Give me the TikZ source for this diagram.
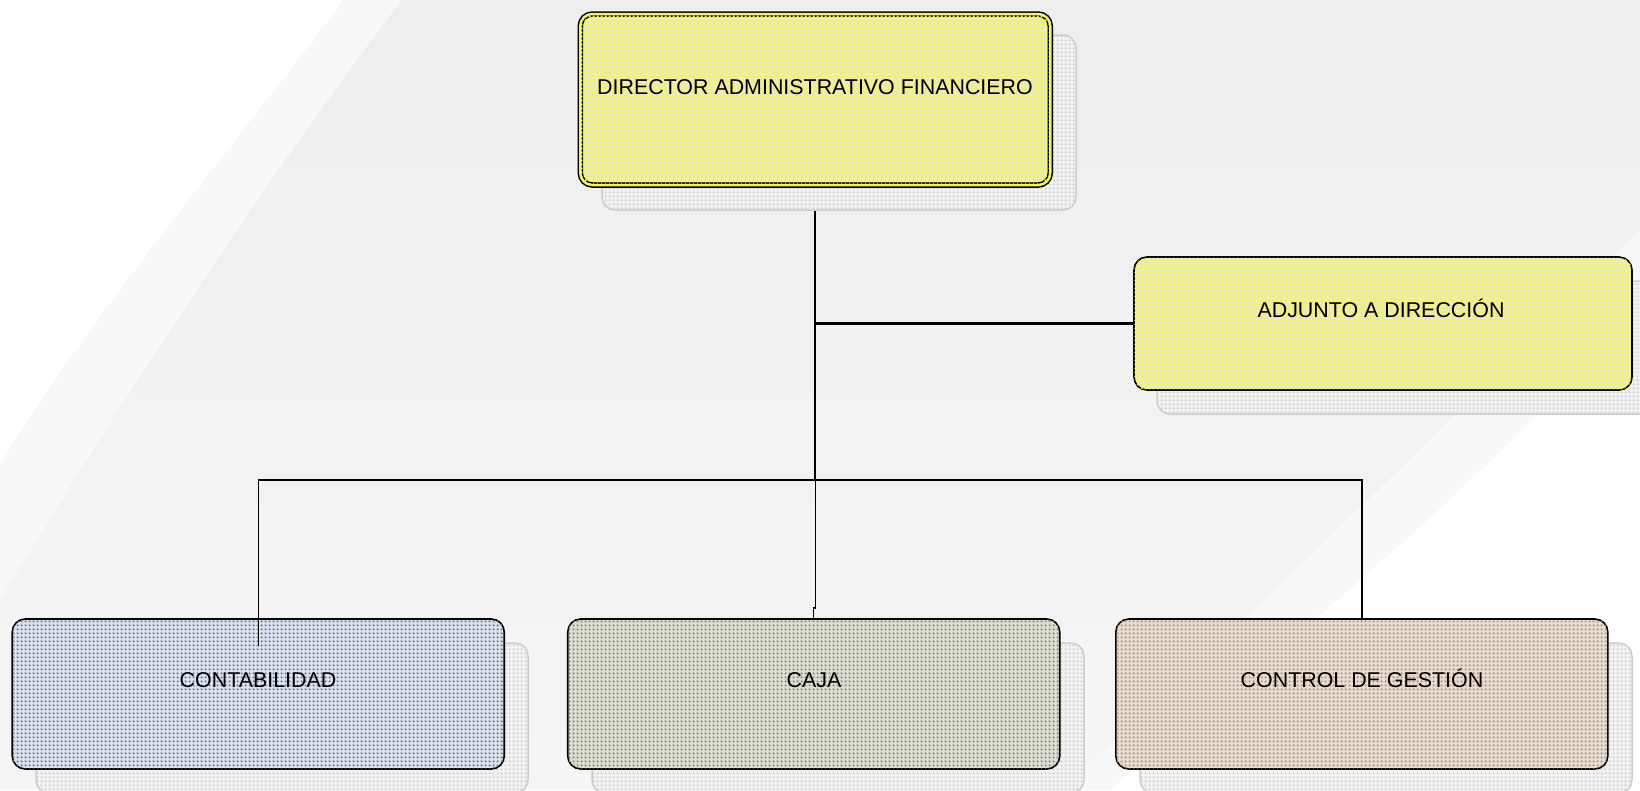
\documentclass[tikz,border=0pt]{standalone}
\usepackage{fontspec}
\setmainfont{Liberation Sans}
\usetikzlibrary{patterns.meta}
\definecolor{yellowbase}{HTML}{E8E8CC}
\definecolor{yellowdot}{HTML}{FFFF00}
\definecolor{bluebase}{HTML}{DCE2EC}
\definecolor{bluedot}{HTML}{4A80DA}
\definecolor{cajabase}{HTML}{DCDDD2}
\definecolor{cajadot}{HTML}{879656}
\definecolor{ctrlbase}{HTML}{E6DCD2}
\definecolor{ctrldot}{HTML}{F57F30}
\definecolor{shadowbase}{HTML}{F2F2F2}
\definecolor{shadowdot}{HTML}{D0D0D0}
\definecolor{shadowline}{HTML}{CDCDCD}
\definecolor{bandcol}{HTML}{F8F8F8}
\definecolor{greytop}{HTML}{EEEEEE}
\definecolor{greybot}{HTML}{F5F5F5}
\tikzdeclarepattern{name=boxdots, type=uncolored,
  bounding box={(0pt,0pt) and (4pt,4pt)}, tile size={(4pt,4pt)},
  code={\fill (2pt,2pt) circle (1.45pt);}}
\pgfdeclarelayer{back}
\pgfdeclarelayer{lines}
\pgfsetlayers{back,lines,main}
\begin{document}
\begin{tikzpicture}[x=1pt,y=-1pt,
  shadowbox/.style={draw=shadowline, fill=shadowbase, postaction={pattern=boxdots, pattern color=shadowdot}, line width=1.5pt, rounded corners=13pt, inner sep=0pt, outer sep=0pt},
  orgbox/.style={draw=black, line width=1.6pt, rounded corners=13pt, inner sep=0pt, outer sep=0pt},
  dotfill/.style 2 args={fill=#1, postaction={pattern=boxdots, pattern color=#2}},
  topbox/.style={draw=black, line width=1.5pt, double=yellowbase!60!yellowdot, double distance=2.5pt, rounded corners=12pt, inner sep=0pt, outer sep=0pt},
  lbl/.style={font=\fontsize{21.4}{25}\selectfont, anchor=base, inner sep=0pt, text=black},
  conn/.style={draw=black, line width=1.4pt},
  mainline/.style={draw=black, line width=2.1pt}]
\useasboundingbox (0,0) rectangle (1640,790);
\clip (0,0) rectangle (1640,790);

% background
\begin{pgfonlayer}{back}
  \fill[white] (0,0) rectangle (1640,790);
  \fill[bandcol] (344,0) -- (1640,0) -- (1640,300)
     .. controls (1530,440) and (1330,610) .. (1110,790)
     -- (0,790) -- (0,465)
     .. controls (80,330) and (230,150) .. (344,0) -- cycle;
  \shade[top color=greytop, bottom color=greybot] (402,0) -- (1640,0) -- (1640,230)
     .. controls (1480,390) and (1270,600) .. (1060,790)
     -- (0,790) -- (0,600)
     .. controls (110,420) and (250,200) .. (402,0) -- cycle;
\end{pgfonlayer}

% shadows
\node[shadowbox, minimum width=474pt, minimum height=175pt] (dirsh) at (839,122.5) {};
\node[shadowbox, minimum width=498pt, minimum height=133pt] (adjsh) at (1406,347.5) {};
\node[shadowbox, minimum width=492pt, minimum height=150pt] (contsh) at (282,718) {};
\node[shadowbox, minimum width=492pt, minimum height=150pt] (cajash) at (838,718) {};
\node[shadowbox, minimum width=492pt, minimum height=150pt] (ctrlsh) at (1386,718) {};

% boxes
\node[topbox, dotfill={yellowbase}{yellowdot}, minimum width=470pt, minimum height=171pt] (dir) at (815.25,99.5) {};
\node[orgbox, dotfill={yellowbase}{yellowdot}, minimum width=498pt, minimum height=133pt] (adj) at (1383,323.5) {};
\node[orgbox, dotfill={bluebase}{bluedot}, minimum width=492pt, minimum height=150pt] (cont) at (258.25,694) {};
\node[orgbox, dotfill={cajabase}{cajadot}, minimum width=492pt, minimum height=150pt] (caja) at (813.75,694) {};
\node[orgbox, dotfill={ctrlbase}{ctrldot}, minimum width=492pt, minimum height=150pt] (ctrl) at (1361.8,694) {};

% texts
\node[lbl] (tdir) at (815,94.5) {DIRECTOR ADMINISTRATIVO FINANCIERO};
\node[lbl] (tadj) at (1381,317.5) {ADJUNTO A DIRECCIÓN};
\node[lbl] (tcont) at (258,687.5) {CONTABILIDAD};
\node[lbl] (tcaja) at (814,687.5) {CAJA};
\node[lbl] (tctrl) at (1362,687.5) {CONTROL DE GESTIÓN};

% connectors
\coordinate (busy) at (0,480);
\coordinate (jogy) at (0,608);
\coordinate (cdrop) at (258.25,646);
\begin{pgfonlayer}{lines}
  \draw[mainline] (dir.south) -- (dir.south |- busy);
  \draw[conn] (dir.south |- busy) -- (dir.south |- jogy) -- (caja.north |- jogy) -- (caja.north);
  \draw[mainline] (adj.west) -- (adj.west -| dir.south);
  \draw[conn] (cont.north |- busy) -- (ctrl.north |- busy) -- (ctrl.north);
\end{pgfonlayer}
\draw[conn] (cont.north |- busy) -- (cdrop);
\end{tikzpicture}
\end{document}
